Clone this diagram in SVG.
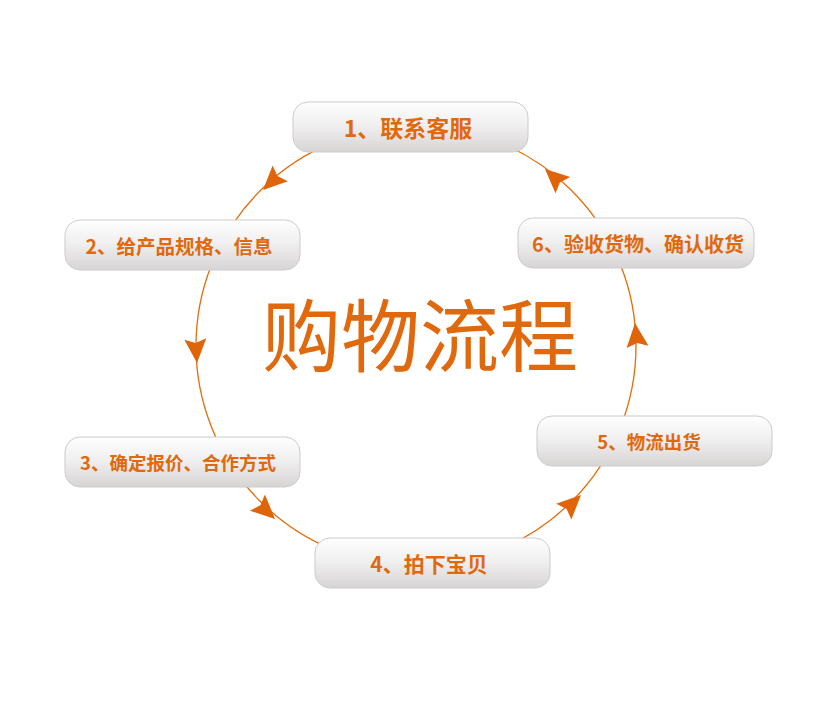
<svg xmlns="http://www.w3.org/2000/svg" width="823" height="711" viewBox="0 0 823 711">
  <defs>
    <linearGradient id="nodeGrad" x1="0" y1="0" x2="0" y2="1">
      <stop offset="0" stop-color="#fefefe"/>
      <stop offset="0.45" stop-color="#f1f0f0"/>
      <stop offset="1" stop-color="#d7d4d4"/>
    </linearGradient>
    <path id="arrowHead" d="M0,0 L-24,-11 L-20,0 L-24,11 Z"/>
  </defs>
  <style>
    .node rect { fill: url(#nodeGrad); stroke: #cdcbcb; stroke-width: 1; }
    .node text { font-family: "Noto Sans CJK SC", "Liberation Sans", sans-serif; font-weight: bold; fill: #E0690E; text-anchor: middle; dominant-baseline: central; }
    .ring { fill: none; stroke: #E36C0A; stroke-width: 1.3; }
    .arrow { fill: #E0650A; }
    .title { font-family: "Noto Sans CJK SC", sans-serif; font-size: 79px; font-weight: 400; fill: #E0690E; text-anchor: middle; }
  </style>
  <rect width="823" height="711" fill="#ffffff"/>
  <g id="connectors">
    <circle class="ring" cx="416" cy="346" r="220"/>
    <use href="#arrowHead" class="arrow" transform="translate(263,190) rotate(136)"/>
    <use href="#arrowHead" class="arrow" transform="translate(197,363) rotate(86)"/>
    <use href="#arrowHead" class="arrow" transform="translate(275,519) rotate(43)"/>
    <use href="#arrowHead" class="arrow" transform="translate(581,495) rotate(-44)"/>
    <use href="#arrowHead" class="arrow" transform="translate(635,323) rotate(-96)"/>
    <use href="#arrowHead" class="arrow" transform="translate(545,169) rotate(-138)"/>
  </g>
  <text class="title" x="420" y="366">购物流程</text>
  <g id="node1" class="node">
    <rect x="293" y="102" width="235" height="50" rx="15"/>
    <text x="408" y="127" font-size="23">1、联系客服</text>
  </g>
  <g id="node2" class="node">
    <rect x="65" y="220" width="235" height="50" rx="15"/>
    <text x="179" y="245" font-size="19.5">2、给产品规格、信息</text>
  </g>
  <g id="node3" class="node">
    <rect x="65" y="437" width="235" height="50" rx="15"/>
    <text x="178" y="462" font-size="18.5">3、确定报价、合作方式</text>
  </g>
  <g id="node4" class="node">
    <rect x="315" y="538" width="235" height="50" rx="15"/>
    <text x="429" y="563" font-size="21">4、拍下宝贝</text>
  </g>
  <g id="node5" class="node">
    <rect x="537" y="416" width="235" height="50" rx="15"/>
    <text x="649" y="441" font-size="18.5">5、物流出货</text>
  </g>
  <g id="node6" class="node">
    <rect x="518" y="218" width="236" height="50" rx="15"/>
    <text x="638" y="243" font-size="20">6、验收货物、确认收货</text>
  </g>
</svg>
